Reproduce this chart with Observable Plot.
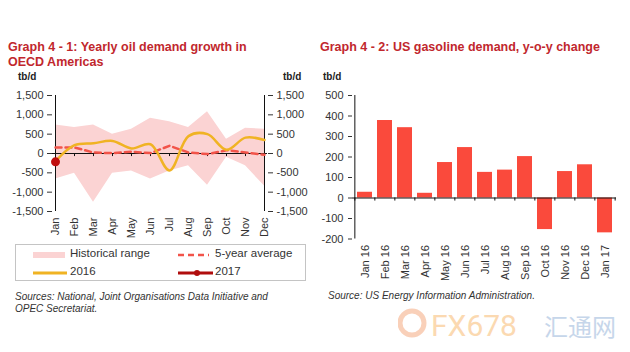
<!DOCTYPE html>
<html>
<head>
<meta charset="utf-8">
<script src="https://cdn.jsdelivr.net/npm/d3@7"></script>
<script src="https://cdn.jsdelivr.net/npm/@observablehq/plot@0.6"></script>
<style>
  html, body { margin: 0; padding: 0; background: #fff; }
  #root { position: relative; width: 630px; height: 352px; overflow: hidden; font-family: "Liberation Sans", Arial, sans-serif; color: #333; }
  .abs { position: absolute; white-space: nowrap; }
  .title { font-weight: bold; font-size: 12.5px; color: #c1272d; line-height: 15px; }
  .unit { font-weight: bold; font-size: 10px; color: #222; }
  .src { font-style: italic; font-size: 10px; color: #333; line-height: 12px; }
  .leg { font-size: 11.5px; color: #333; }
</style>
</head>
<body>
<div id="root"></div>
<script>
// ---------- Data: Graph 4-1 ----------
const months = ["Jan","Feb","Mar","Apr","May","Jun","Jul","Aug","Sep","Oct","Nov","Dec"];
const histHigh = [740, 670, 740, 500, 630, 910, 820, 670, 1080, 370, 650, 630];
const histLow  = [-660, -510, -1260, -510, -450, -660, -450, -320, -820, -100, -320, -840];
const avg5y    = [155, 155, 25, 10, 45, 10, 200, 25, -15, 85, 25, -35];
const y2016    = [-200, 215, 265, 325, 130, 240, -440, 450, 500, 95, 410, 350];
const months2017 = ["Jan"];
const y2017    = [-215];
const leftTicks = [-1500, -1000, -500, 0, 500, 1000, 1500];

// ---------- Data: Graph 4-2 ----------
const gasCats = ["Jan 16","Feb 16","Mar 16","Apr 16","May 16","Jun 16","Jul 16","Aug 16","Sep 16","Oct 16","Nov 16","Dec 16","Jan 17"];
const gasVals = [28, 378, 343, 23, 173, 246, 125, 136, 202, -154, 129, 162, -170];
const rightTicks = [-200, -100, 0, 100, 200, 300, 400, 500];

const fmt = d => (d < 0 ? "-" : "") + d3.format(",")(Math.abs(d));
const root = document.getElementById("root");

function place(el, left, top) {
  el.style.position = "absolute";
  el.style.left = left + "px";
  el.style.top = top + "px";
  root.appendChild(el);
  return el;
}
function text(html, cls, left, top) {
  const d = document.createElement("div");
  d.className = "abs " + cls;
  d.innerHTML = html;
  return place(d, left, top);
}

// ---------- Left chart ----------
const band = months.map((m, i) => ({m, lo: histLow[i], hi: histHigh[i]}));
const avg = months.map((m, i) => ({m, v: avg5y[i]}));
const l16 = months.map((m, i) => ({m, v: y2016[i]}));
const l17 = months2017.map((m, i) => ({m, v: y2017[i]}));

const left = Plot.plot({
  width: 300, height: 160,
  marginTop: 10, marginBottom: 34, marginLeft: 52, marginRight: 33,
  style: {fontSize: "11px", fontFamily: "Liberation Sans, Arial, sans-serif", color: "#333", background: "transparent", overflow: "visible"},
  x: {type: "point", domain: months, padding: 0},
  y: {domain: [-1500, 1500]},
  marks: [
    Plot.areaY(band, {x: "m", y1: "lo", y2: "hi", fill: "#fbd3d3"}),
    Plot.ruleY([0], {stroke: "#111", strokeWidth: 1}),
    Plot.ruleX(months, {x: d => d, y1: 0, y2: -80, stroke: "#111"}),
    Plot.ruleX([months[0], months[months.length - 1]], {x: d => d, y1: -1500, y2: 1500, stroke: "#111"}),
    Plot.line(avg, {x: "m", y: "v", stroke: "#f2544a", strokeWidth: 2.5, strokeDasharray: "6,4"}),
    Plot.line(l16, {x: "m", y: "v", stroke: "#f0b323", strokeWidth: 2.5, curve: "catmull-rom"}),
    Plot.dot(l17, {x: "m", y: "v", r: 4.5, fill: "#c00d0d"}),
    Plot.axisY({anchor: "left", ticks: leftTicks, tickFormat: fmt, tickSize: 5, tickPadding: 4, label: null}),
    Plot.axisY({anchor: "right", ticks: leftTicks, tickFormat: fmt, tickSize: 5, tickPadding: 4, label: null}),
    Plot.axisX({anchor: "bottom", tickRotate: -90, tickSize: 0, tickPadding: 6, label: null})
  ]
});
place(left, 0, 85);

// ---------- Right chart ----------
const gas = gasCats.map((c, i) => ({c, v: gasVals[i]}));
const step = (616 - 352) / gasCats.length;
const right = Plot.plot({
  width: 320, height: 225,
  marginTop: 10, marginBottom: 71.5, marginLeft: 42, marginRight: 14,
  style: {fontSize: "11px", fontFamily: "Liberation Sans, Arial, sans-serif", color: "#333", background: "transparent", overflow: "visible"},
  x: {type: "band", domain: gasCats, paddingInner: 0.26, paddingOuter: 0.13},
  y: {domain: [-200, 500]},
  marks: [
    Plot.barY(gas, {x: "c", y: "v", fill: "#fa4a3c"}),
    Plot.ruleY([0], {stroke: "#111"}),
    Plot.ruleX(gasCats, {x: d => d, y1: 0, y2: -15, dx: -step / 2, stroke: "#111"}),
    Plot.ruleX([gasCats[gasCats.length - 1]], {x: d => d, y1: 0, y2: -15, dx: step / 2, stroke: "#111"}),
    Plot.ruleX([gasCats[0]], {x: d => d, y1: -200, y2: 500, dx: -step / 2, stroke: "#111"}),
    Plot.axisY({anchor: "left", ticks: rightTicks, tickFormat: fmt, tickSize: 4, tickPadding: 5, label: null}),
    Plot.axisX({anchor: "bottom", tickRotate: -90, tickSize: 0, tickPadding: 6, label: null})
  ]
});
place(right, 310, 85);

// ---------- Texts ----------
text("Graph 4 - 1: Yearly oil demand growth in<br>OECD Americas", "title", 8, 40);
text("Graph 4 - 2: US gasoline demand, y-o-y change", "title", 320, 40);
text("tb/d", "unit", 18, 71);
text("tb/d", "unit", 283, 71);
text("tb/d", "unit", 323, 71);
text("Sources: National, Joint Organisations Data Initiative and<br>OPEC Secretariat.", "src", 15, 291);
text("Source: US Energy Information Administration.", "src", 328, 290);

// ---------- Legend ----------
const legBox = document.createElement("div");
legBox.style.cssText = "width:291px;height:37px;border:1px solid #c4c4c4;box-sizing:border-box;";
place(legBox, 15, 244);
const legSvg = d3.create("svg").attr("width", 292).attr("height", 40).style("position", "absolute").style("left", "15px").style("top", "244px");
legSvg.append("rect").attr("x", 18).attr("y", 8).attr("width", 32).attr("height", 6).attr("fill", "#fbd3d3");
legSvg.append("line").attr("x1", 163).attr("x2", 194).attr("y1", 11).attr("y2", 11).attr("stroke", "#f2544a").attr("stroke-width", 2.5).attr("stroke-dasharray", "6,4");
legSvg.append("line").attr("x1", 18).attr("x2", 52).attr("y1", 29).attr("y2", 29).attr("stroke", "#f0b323").attr("stroke-width", 3);
legSvg.append("line").attr("x1", 163).attr("x2", 198).attr("y1", 29).attr("y2", 29).attr("stroke", "#b00d0d").attr("stroke-width", 3);
legSvg.append("circle").attr("cx", 182).attr("cy", 29).attr("r", 3).attr("fill", "#b00d0d");
root.appendChild(legSvg.node());
text("Historical range", "leg", 70, 247);
text("5-year average", "leg", 215, 247);
text("2016", "leg", 70, 265);
text("2017", "leg", 215, 265);

// ---------- Watermark ----------
const wm = d3.create("svg").attr("width", 226).attr("height", 44).style("position", "absolute").style("left", "398px").style("top", "303px");
wm.append("circle").attr("cx", 14).attr("cy", 20).attr("r", 12).attr("fill", "none").attr("stroke", "#f5b08a").attr("stroke-width", 5).attr("opacity", 0.6);
wm.append("text").attr("x", 33).attr("y", 33).attr("font-size", 30).attr("font-family", "Roboto, sans-serif").attr("fill", "#fbd3a4").attr("opacity", 0.85).text("FX678");
wm.append("text").attr("x", 146).attr("y", 33).attr("font-size", 24).attr("font-family", "Noto Sans CJK SC, sans-serif").attr("fill", "#b9cde6").attr("opacity", 0.8).text("汇通网");
root.appendChild(wm.node());
</script>
</body>
</html>
